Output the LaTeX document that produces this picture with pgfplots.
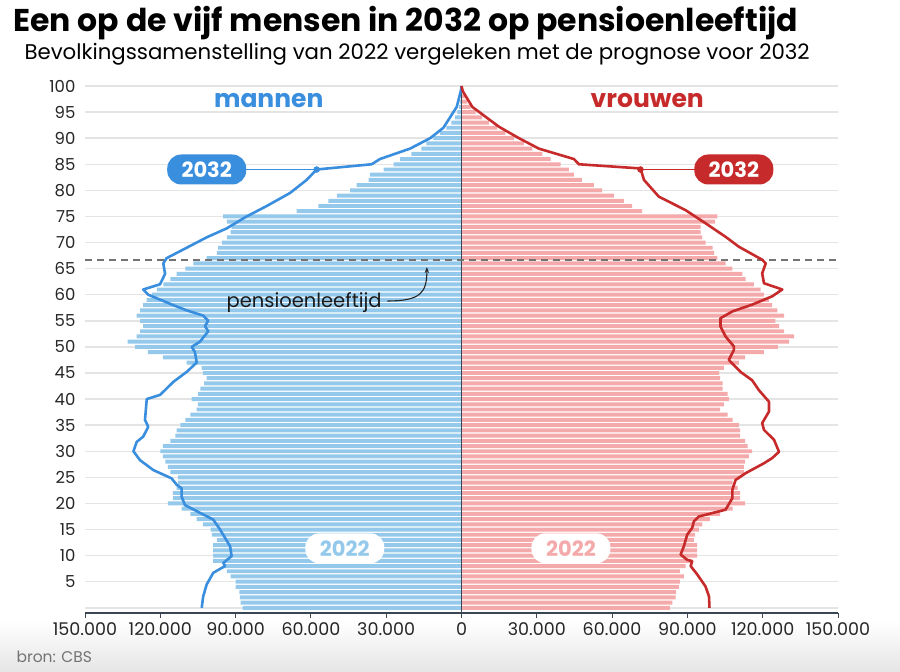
\documentclass[border=0pt]{standalone}
\usepackage{pgfplots}
\pgfplotsset{compat=1.18}
\usepackage{pgfplotstable}
\usepackage{fontspec}
\setmainfont{Poppins}
\usetikzlibrary{arrows.meta}

\definecolor{manbar}{HTML}{94C9EC}
\definecolor{vrouwbar}{HTML}{F4AAAA}
\definecolor{manline}{HTML}{3A8EDE}
\definecolor{vrouwline}{HTML}{C62A2A}
\definecolor{gridgray}{HTML}{E4E4E4}
\definecolor{axisdark}{HTML}{3A4654}

% bevolking 2022 in duizenden, per leeftijd
\pgfplotstableread{
age m w
0 87.2 83.0
1 88.0 84.0
2 88.3 85.3
3 88.5 85.5
4 90.0 86.6
5 90.0 87.0
6 92.0 88.6
7 93.5 87.0
8 95.0 89.3
9 99.0 92.0
10 99.0 93.9
11 99.0 93.9
12 99.0 93.9
13 97.5 92.6
14 99.5 93.0
15 100.0 94.6
16 103.0 96.0
17 105.5 99.0
18 108.0 103.0
19 111.5 108.0
20 117.0 113.0
21 115.0 111.0
22 115.0 111.0
23 113.5 110.0
24 113.0 108.0
25 113.0 111.0
26 116.0 112.5
27 117.0 112.5
28 118.0 113.0
29 119.0 114.5
30 120.0 115.8
31 119.0 114.0
32 116.0 113.0
33 114.0 111.0
34 113.5 111.0
35 112.0 110.5
36 110.0 108.0
37 108.0 106.0
38 105.5 103.0
39 105.0 104.5
40 107.5 106.5
41 105.0 106.0
42 104.0 104.0
43 102.5 104.0
44 101.5 103.0
45 103.0 102.6
46 103.5 104.5
47 109.5 110.5
48 119.0 113.0
49 125.0 120.5
50 130.0 126.0
51 133.0 130.5
52 129.4 132.5
53 128.0 128.5
54 126.8 126.5
55 128.0 125.0
56 129.4 128.5
57 128.0 125.8
58 126.8 123.8
59 125.4 122.5
60 123.4 120.5
61 121.4 119.2
62 118.8 116.5
63 116.0 113.2
64 113.5 111.9
65 110.0 107.9
66 106.8 105.2
67 101.5 101.9
68 97.5 100.6
69 97.0 100.0
70 95.5 97.3
71 93.5 95.9
72 92.0 95.3
73 91.6 95.3
74 93.5 101.0
75 95.0 101.9
76 65.7 72.0
77 57.0 68.0
78 53.0 64.7
79 49.7 60.7
80 44.4 56.0
81 41.8 52.7
82 37.0 48.0
83 36.5 44.8
84 31.0 42.8
85 27.0 39.5
86 24.5 35.5
87 20.0 32.2
88 16.0 28.2
89 14.0 24.8
90 11.2 20.9
91 8.6 17.5
92 6.0 14.2
93 4.0 10.9
94 2.5 8.2
95 1.6 5.6
96 1.0 3.6
97 0.6 2.3
98 0.35 1.4
99 0.2 0.8
}\bars

% prognose 2032 mannen
\pgfplotstableread{
age m
0 103.5
2.2 102.9
4.5 101.5
6.7 98.9
8 94.2
8.6 94.9
9.9 91.6
11.8 92.2
13.4 94.2
15 96.2
16.9 98.9
18.2 104.2
19.7 110.2
21.3 111.5
22.9 111.5
23.6 113.5
24.8 115.5
26.4 122.8
28.3 128.1
30 130.7
31.8 129.4
32.8 126.8
34.7 124.8
36 126.1
40 125.4
40.8 120.1
41.4 118.8
43.3 114.8
45.2 109.5
47 105.5
49 106.2
50 107.5
51 104.2
53 100.9
54 102.2
55 100.9
56 102.9
57 109.5
58 114.8
60 124.8
61 126.8
62 120.1
64 118.1
66 118.8
67 117.5
69 109.5
71 101.5
72.7 93.6
75 85.6
77 77.6
79.5 68.3
82 61.7
84 57.7
85 35.8
86 32.5
88 20.5
90 12.5
92 7.2
96 1.9
99 0.3
100 0
}\mannen

% prognose 2032 vrouwen
\pgfplotstableread{
age w
0 98.8
2.2 98.6
4.1 97.2
6.4 93.9
8 91.3
8.9 91.9
9.2 89.9
10.2 87.3
11.8 88.6
14 89.9
15.3 91.9
16.6 92.6
17.5 94.6
18.8 105.2
21 107.9
22.6 107.9
24.5 109.2
25.8 113.2
27.7 120.5
28.7 123.8
29.9 126.5
32.2 124.5
34.1 120.5
35.4 119.8
37.6 122.5
39.5 122.5
41.7 118.5
43.6 115.8
45.2 111.2
47.5 106.5
49.4 108.5
50.1 108.5
52 105.2
53.9 103.2
55.5 103.2
56.8 107.9
58.1 115.8
59.7 123.8
61 127.8
62.2 120.5
64.1 119.8
66 121.2
66.7 119.8
69.2 110.5
71.1 105.2
73.7 97.2
76.2 89.3
78.8 78.6
82 72.7
84.2 71.3
85 46.8
86 44.8
88 30.8
90 22.9
92.2 14.9
96 4.3
99 0.5
100 0
}\vrouwen

\begin{document}
\begin{tikzpicture}
\path[use as bounding box] (0,0) rectangle (900pt,-672pt);
\shade[top color=white, bottom color=black!10] (0,-620pt) rectangle (900pt,-672pt);

\node[anchor=base west, font=\bfseries\fontsize{31.5}{31.5}\selectfont] at (10pt,-31pt)
  {Een op de vijf mensen in 2032 op pensioenleeftijd};
\node[anchor=base west, font=\fontsize{21.3}{21.3}\selectfont] at (21pt,-59pt)
  {Bevolkingssamenstelling van 2022 vergeleken met de prognose voor 2032};
\node[anchor=west, text=black!55, font=\fontsize{15.5}{15.5}\selectfont] at (13pt,-657pt) {bron: CBS};

\begin{axis}[
  at={(85pt,-613pt)}, anchor=south west,
  scale only axis, width=753pt, height=527pt,
  xmin=-150, xmax=150, ymin=-1, ymax=100,
  clip=false,
  axis x line*=bottom, axis y line*=left,
  x axis line style={draw=axisdark, line width=1.3pt, -},
  y axis line style={draw=none},
  xtick={-150,-120,...,150},
  xticklabels={150.000,120.000,90.000,60.000,30.000,0,30.000,60.000,90.000,120.000,150.000},
  ytick={0,5,...,100},
  yticklabels={{},5,10,15,20,25,30,35,40,45,50,55,60,65,70,75,80,85,90,95,100},
  tick align=outside,
  major tick length=5pt,
  xtick style={draw=axisdark, line width=1pt},
  ytick style={draw=none},
  ymajorgrids,
  major grid style={draw=gridgray, line width=1.5pt},
  /pgf/number format/assume math mode=true,
  xticklabel style={font=\fontsize{17.5}{17.5}\selectfont, text=black!85, yshift=-1pt},
  yticklabel style={font=\fontsize{16.5}{16.5}\selectfont, text=black!85, xshift=-1pt},
]
% balken 2022
\addplot[xbar, bar shift=0pt, bar width=0.76, fill=manbar, draw=none]
  table[x expr=-\thisrow{m}, y=age] {\bars};
\addplot[xbar, bar shift=0pt, bar width=0.76, fill=vrouwbar, draw=none]
  table[x=w, y=age] {\bars};

% middenlijn en pensioenleeftijd
\addplot[axisdark, line width=1.4pt] coordinates {(0,-1) (0,100)};
\addplot[black!55, line width=1.7pt, dash pattern=on 7pt off 5pt] coordinates {(-150,66.7) (150,66.7)};

% prognose 2032
\addplot[manline, line width=2.6pt, line join=round] table[x expr=-\thisrow{m}, y=age] {\mannen};
\addplot[vrouwline, line width=2.6pt, line join=round] table[x=w, y=age] {\vrouwen};

\addplot[manline, line width=1pt] coordinates {(-57.7,84) (-101.5,84)};
\addplot[vrouwline, line width=1pt] coordinates {(71.3,84) (108.5,84)};
\addplot[only marks, mark=*, mark size=3pt, manline] coordinates {(-57.7,84)};
\addplot[only marks, mark=*, mark size=3pt, vrouwline] coordinates {(71.3,84)};

\node[fill=manline, rounded corners=14pt, minimum width=79pt, minimum height=30pt, inner sep=0pt,
  text=white, font=\bfseries\fontsize{21}{21}\selectfont] at (axis cs:-101.5,84) {2032};
\node[fill=vrouwline, rounded corners=14pt, minimum width=79pt, minimum height=30pt, inner sep=0pt,
  text=white, font=\bfseries\fontsize{21}{21}\selectfont] at (axis cs:108.5,84) {2032};

\node[fill=white, rounded corners=14pt, minimum width=79pt, minimum height=30pt, inner sep=0pt,
  text=manbar, font=\bfseries\fontsize{21}{21}\selectfont] at (axis cs:-46.5,11.4) {2022};
\node[fill=white, rounded corners=14pt, minimum width=79pt, minimum height=30pt, inner sep=0pt,
  text=vrouwbar, font=\bfseries\fontsize{21}{21}\selectfont] at (axis cs:43.6,11.4) {2022};

\node[text=manline, font=\bfseries\fontsize{25}{25}\selectfont] at (axis cs:-76.8,97.3) {mannen};
\node[text=vrouwline, font=\bfseries\fontsize{25}{25}\selectfont] at (axis cs:74,97.3) {vrouwen};

\node[text=black!90, font=\fontsize{19.5}{19.5}\selectfont] at (axis cs:-62.7,58.4) {pensioenleeftijd};
\draw[black!85, line width=1.1pt, -{Stealth[length=6pt]}]
  (axis cs:-29.5,58.8) .. controls (axis cs:-16,58.8) and (axis cs:-13.8,60.5) .. (axis cs:-13.8,65.3);
\end{axis}
\end{tikzpicture}
\end{document}
